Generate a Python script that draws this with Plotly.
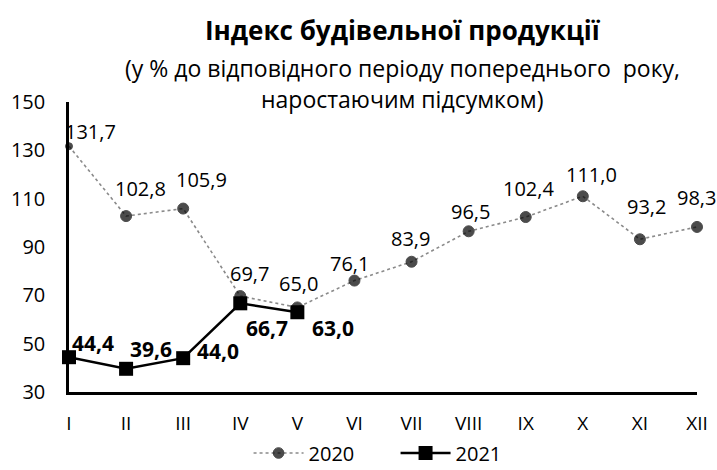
import plotly.graph_objects as go

months = ["I", "II", "III", "IV", "V", "VI", "VII", "VIII", "IX", "X", "XI", "XII"]
vals_2020 = [131.7, 102.8, 105.9, 69.7, 65.0, 76.1, 83.9, 96.5, 102.4, 111.0, 93.2, 98.3]
vals_2021 = [44.4, 39.6, 44.0, 66.7, 63.0]
y_ticks = [30, 50, 70, 90, 110, 130, 150]

# label offsets in pixels (dx right, dy up) relative to each point
off_2020 = [(21, 15), (14, 28), (18, 29), (9, 23), (1, 24), (-5, 17),
            (-1, 23), (2, 20), (3, 29), (9, 22), (7, 33), (-1, 29)]
off_2021 = [(24, 14), (25, 20), (35, 7), (27, -25), (36, -16)]

def fmt(v):
    return f"{v:.1f}".replace(".", ",")

FONT = "Open Sans"
W, H = 717, 470
L, R, T, B = 69, 20, 102, 78

fig = go.Figure()
fig.add_trace(go.Scatter(
    x=months, y=vals_2020, name="2020",
    mode="lines+markers",
    line=dict(color="#8a8a8a", width=1.6, dash="dot"),
    marker=dict(symbol="circle", size=[7] + [11] * 11, color="black",
                line=dict(width=1, color="black")),
    cliponaxis=False,
))
fig.add_trace(go.Scatter(
    x=months[:len(vals_2021)], y=vals_2021, name="2021",
    mode="lines+markers",
    line=dict(color="black", width=2.5),
    marker=dict(symbol="square", size=14, color="black"),
    cliponaxis=False,
))

for m, v, (dx, dy) in zip(months, vals_2020, off_2020):
    fig.add_annotation(x=m, y=v, xref="x", yref="y", text=fmt(v), showarrow=False,
                       xshift=dx, yshift=dy, font=dict(family=FONT, size=20, color="black"))
for m, v, (dx, dy) in zip(months, vals_2021, off_2021):
    fig.add_annotation(x=m, y=v, xref="x", yref="y", text="<b>" + fmt(v) + "</b>", showarrow=False,
                       xshift=dx, yshift=dy, font=dict(family=FONT, size=21, color="black"))

pw, ph = W - L - R, H - T - B
def px(x, y):
    return (x - L) / pw, (H - B - y) / ph

for txt, (cx, cy), size in [
    ("<b>Індекс будівельної продукції</b>", (403, 30), 26),
    ("(у % до відповідного періоду попереднього  року,", (402, 68), 23),
    ("наростаючим підсумком)", (402, 99), 23),
]:
    ax, ay = px(cx, cy)
    fig.add_annotation(text=txt, x=ax, y=ay, xref="paper", yref="paper", showarrow=False,
                       xanchor="center", yanchor="middle", font=dict(size=size, family=FONT, color="black"))

fig.update_layout(
    width=W, height=H,
    margin=dict(l=L, r=R, t=T, b=B, autoexpand=False),
    paper_bgcolor="white", plot_bgcolor="white",
    font=dict(family=FONT, color="black"),
    showlegend=True,
    legend=dict(orientation="h", x=0.52, xanchor="center", y=px(0, 453)[1], yanchor="middle",
                font=dict(size=20, family=FONT), itemwidth=50,
                entrywidth=82, entrywidthmode="pixels",
                bgcolor="rgba(0,0,0,0)"),
    xaxis=dict(type="category", range=[0, 11],
               showgrid=False, zeroline=False, showline=True, linecolor="black", linewidth=2.5,
               ticks="", ticklen=0, tickfont=dict(size=19, family=FONT), ticklabelstandoff=12,
               automargin=False),
    yaxis=dict(range=[30, 150], tickmode="array", tickvals=y_ticks,
               showgrid=False, zeroline=False, showline=True, linecolor="black", linewidth=2.5,
               ticks="", ticklen=0, tickfont=dict(size=20, family=FONT), ticklabelstandoff=17,
               automargin=False),
)

fig.write_html("out.html", config={"displayModeBar": False},
               post_script="document.body.style.margin='0px';")
